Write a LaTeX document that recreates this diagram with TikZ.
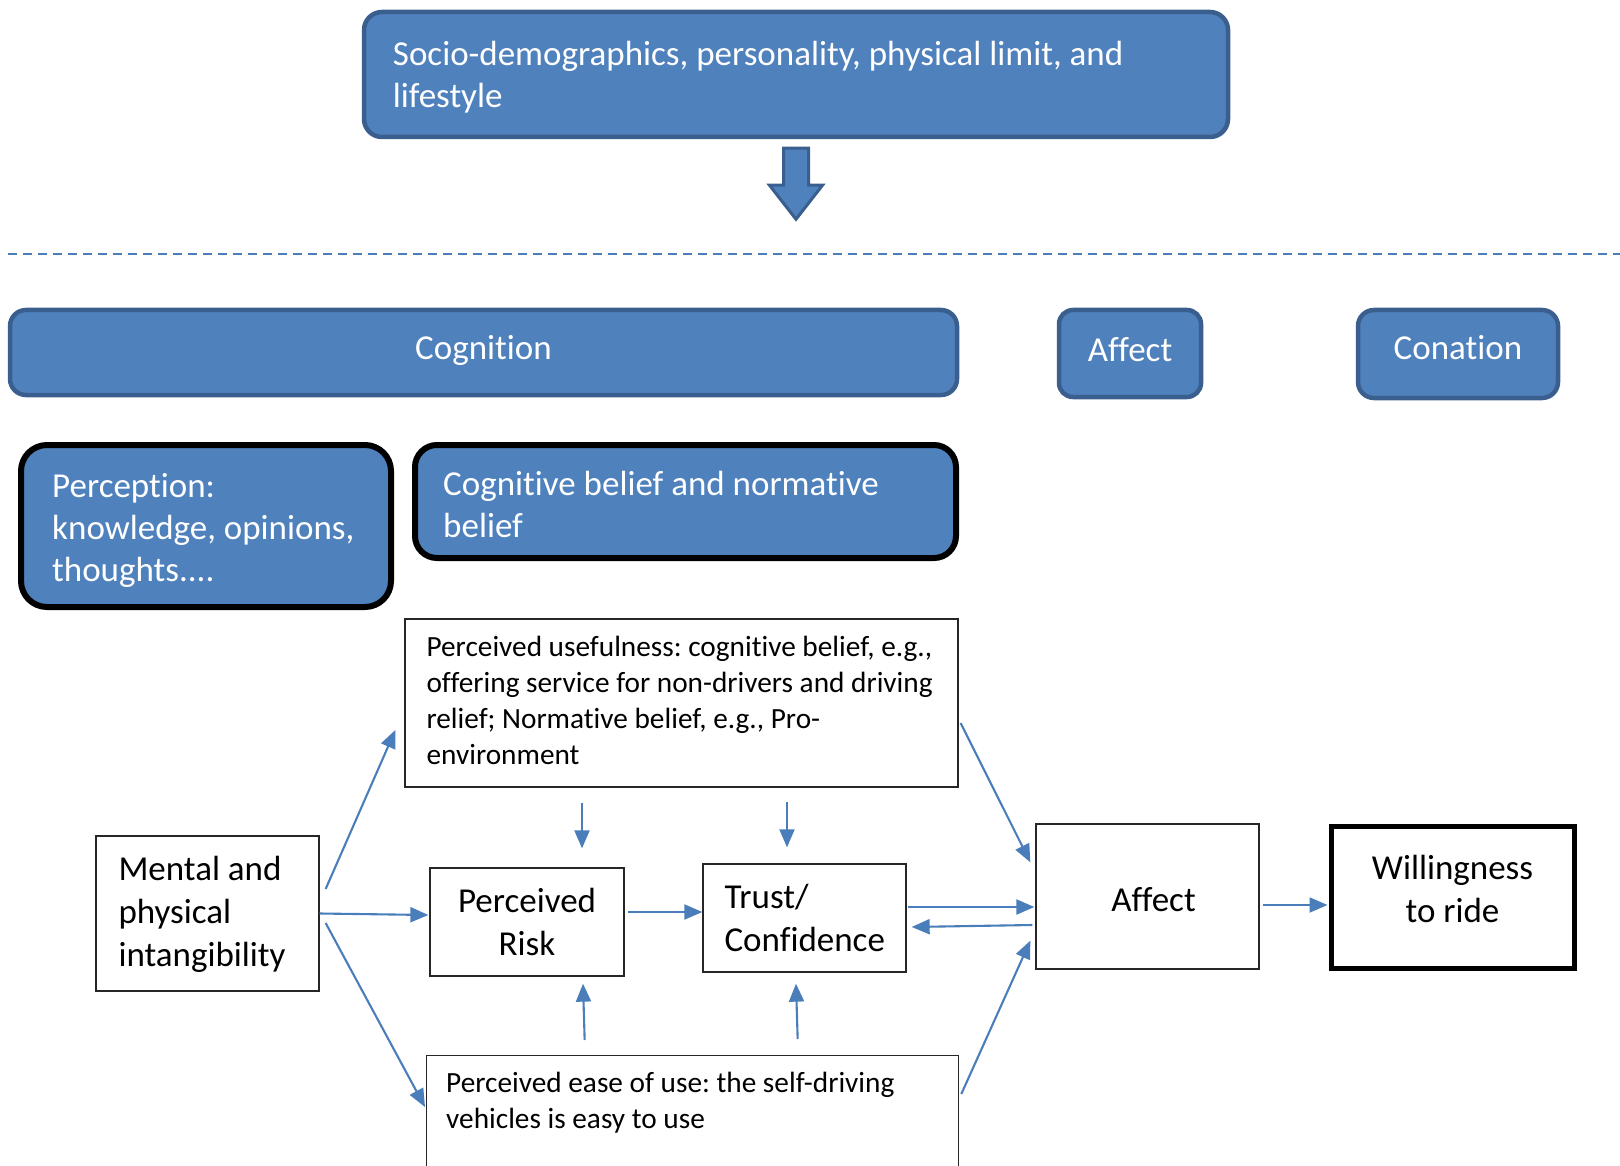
\documentclass[tikz,border=0pt]{standalone}
\usepackage{fontspec}
\setmainfont{Carlito}[Ligatures=NoCommon]
\usetikzlibrary{arrows.meta,calc}
\definecolor{ofblue}{HTML}{4F81BD}
\definecolor{ofborder}{HTML}{3A5F8E}
\definecolor{arrblue}{HTML}{4A7EBB}
\newcommand\bigf{\fontsize{35}{43}\selectfont\frenchspacing}
\newcommand\whitef{\fontsize{35}{42}\selectfont\frenchspacing}
\newcommand\smallf{\fontsize{29.3}{36}\selectfont\frenchspacing}
\tikzset{
  bluebox/.style={rectangle, rounded corners=18pt, fill=ofblue, draw=ofborder, line width=4.5pt, inner sep=0pt},
  blackblue/.style={bluebox, draw=black, line width=6pt, rounded corners=26pt},
  thinbox/.style={rectangle, draw=black!85, line width=1.3pt, fill=white, inner sep=0pt},
  wtxt/.style={inner sep=0pt, align=left, text=white, font=\whitef},
  btxt/.style={inner sep=0pt, align=left, text=black, font=\bigf},
  stxt/.style={inner sep=0pt, align=left, text=black, font=\smallf},
  arr/.style={draw=arrblue, line width=2.1pt, -{Triangle[length=18pt,width=15pt]}},
  blockarrow/.style={fill=ofblue, draw=ofborder, line width=3pt, line join=miter},
  sepline/.style={draw=arrblue, line width=1.8pt, dash pattern=on 9pt off 6pt}
}
\begin{document}
\begin{tikzpicture}[x=1pt,y=-1pt]
\useasboundingbox (0,0) rectangle (1620,1166);
\clip (0,0) rectangle (1620,1166);

% top box
\node[bluebox, minimum width=864pt, minimum height=125pt] (top) at (796,74.5) {};
\node[wtxt, anchor=west] (topT) at ($(top.west)+(31,3.6)$)
  {\strut Socio-demographics, personality, physical limit, and\\\strut lifestyle};
\draw[blockarrow] ($(top.south)+(-12.5,9)$) -- ++(25,0) -- ++(0,37) -- ++(14,0) -- ++(-26.5,34) -- ++(-26.5,-34) -- ++(14,0) -- cycle;

\draw[sepline] (8,254) -- (1620,254);

% header row
\node[bluebox, rounded corners=16pt, minimum width=947pt, minimum height=85pt] (cog) at (483.5,352.5) {};
\node[wtxt, align=center] (cogT) at ($(cog.center)+(0,-1.2)$) {\strut Cognition};
\node[bluebox, rounded corners=14pt, minimum width=142pt, minimum height=87pt] (afftop) at (1130,353.5) {};
\node[wtxt, align=center] (afftopT) at ($(afftop.center)+(0,-0.4)$) {\strut Affect};
\node[bluebox, rounded corners=16pt, minimum width=200pt, minimum height=88pt] (con) at (1458,354) {};
\node[wtxt, align=center] (conT) at ($(con.center)+(0,-2.6)$) {\strut Conation};

% second row
\node[blackblue, minimum width=370pt, minimum height=162pt] (perc) at (206,526) {};
\node[wtxt, anchor=west] (percT) at ($(perc.west)+(34,5.4)$)
  {\strut Perception:\\\strut knowledge, opinions,\\\strut thoughts....};
\node[blackblue, rounded corners=22pt, minimum width=541pt, minimum height=113pt] (cbel) at (685.5,501.5) {};
\node[wtxt, anchor=west] (cbelT) at ($(cbel.west)+(31,6.6)$)
  {\strut Cognitive belief and normative\\\strut belief};

% lower diagram
\node[thinbox, minimum width=553pt, minimum height=168pt] (pu) at (681.5,703) {};
\node[stxt, anchor=west] (puT) at ($(pu.west)+(22,0)$)
  {\strut Perceived usefulness: cognitive belief, e.g.,\\\strut offering service for non-drivers and driving\\\strut relief; Normative belief, e.g., Pro-\\\strut environment};
\node[thinbox, minimum width=223pt, minimum height=155pt] (mental) at (207.5,913.5) {};
\node[btxt, anchor=west] (mentalT) at ($(mental.west)+(23,1)$)
  {\strut Mental and\\\strut physical\\\strut intangibility};
\node[thinbox, minimum width=194pt, minimum height=108pt] (pr) at (527,922) {};
\node[btxt, align=center] (prT) at ($(pr.center)+(0,3.2)$) {\strut Perceived\\\strut Risk};
\node[thinbox, minimum width=203pt, minimum height=108pt] (trust) at (804.5,918) {};
\node[btxt, anchor=west] (trustT) at ($(trust.west)+(22,3.6)$) {\strut Trust/\\\strut Confidence};
\node[thinbox, minimum width=223pt, minimum height=145pt] (affect) at (1147.5,896.5) {};
\node[btxt, align=center] (affectT) at ($(affect.center)+(6,6.6)$) {\strut Affect};
\node[thinbox, draw=black, line width=5pt, minimum width=243pt, minimum height=142pt] (will) at (1452.5,897) {};
\node[btxt, align=center] (willT) at ($(will.center)+(0,-5)$) {\strut Willingness\\\strut to ride};
\node[thinbox, anchor=north west, minimum width=532pt, minimum height=170pt] (pe) at (426,1055) {};
\node[stxt, anchor=north west] (peT) at ($(pe.north west)+(20,12.3)$)
  {\strut Perceived ease of use: the self-driving\\\strut vehicles is easy to use};

% connectors
\draw[arr] ($(mental.east)+(6,-24.5)$) -- ($(pu.west)+(-9,27)$);
\draw[arr] (mental.east) -- ($(pr.west)+(-1,-7)$);
\draw[arr] ($(mental.east)+(6,9.5)$) -- ($(pe.north west)+(-1,52)$);
\draw[arr] ($(pu.south)+(-99.5,15)$) -- ($(pr.north)+(55,-19)$);
\draw[arr] ($(pu.south)+(105.5,14)$) -- ($(trust.north)+(-17.5,-16)$);
\draw[arr] ($(pr.east)+(3,-10)$) -- ($(trust.west)+(0,-6)$);
\draw[arr] ($(trust.east)+(1,-11)$) -- ($(affect.west)+(-1,10.5)$);
\draw[arr] ($(affect.west)+(-3,28.5)$) -- ($(trust.east)+(5,9)$);
\draw[arr] ($(pu.east)+(2,20)$) -- ($(affect.north west)+(-5,39)$);
\draw[arr] ($(pe.north east)+(2,39)$) -- ($(affect.south west)+(-5,-29)$);
\draw[arr] ($(affect.east)+(3,8.5)$) -- ($(will.west)+(-1,8)$);
\draw[arr] ($(pe.north)+(-108,-15)$) -- ($(pr.south)+(56,7)$);
\draw[arr] ($(pe.north)+(105,-16)$) -- ($(trust.south)+(-8.5,11)$);
\end{tikzpicture}
\end{document}
